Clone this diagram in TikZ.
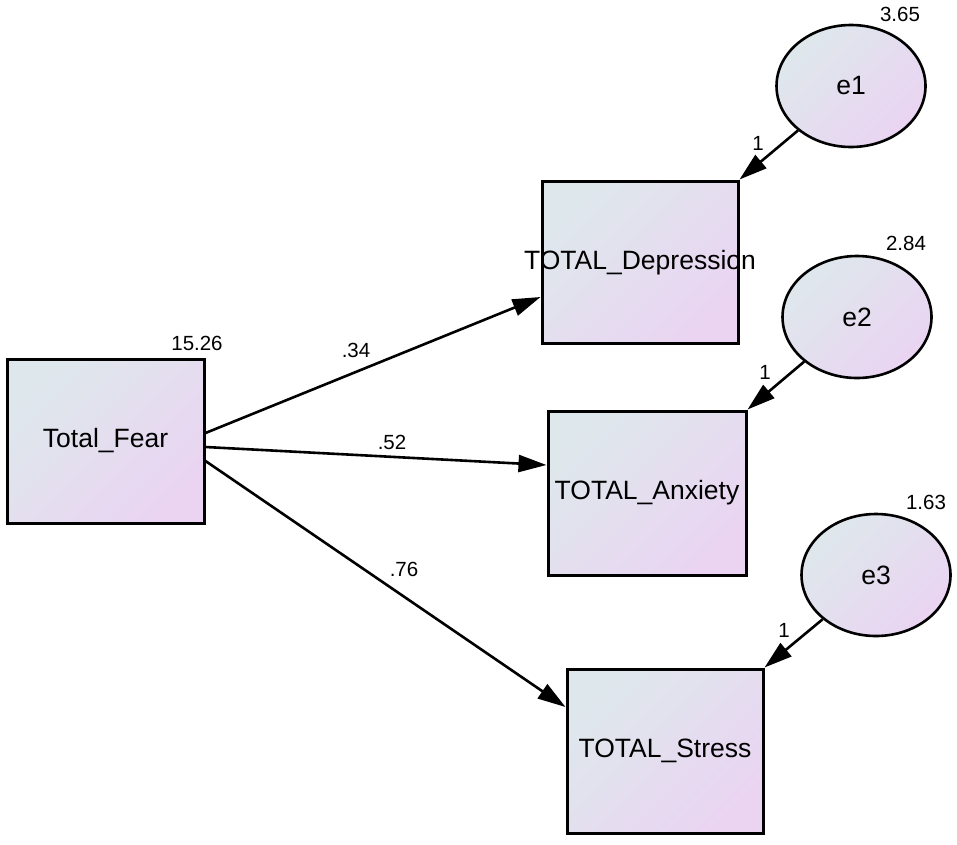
\documentclass[tikz,border=0pt]{standalone}
\usepackage{fontspec}
\setmainfont{Liberation Sans}
\usetikzlibrary{arrows.meta,shapes.geometric}
\definecolor{gA}{RGB}{222,232,236}
\definecolor{gB}{RGB}{234,212,242}
\begin{document}
\begin{tikzpicture}[x=1pt,y=-1pt,
  box/.style={draw=black, line width=3pt, rectangle, inner sep=0pt, top color=gA, bottom color=gB, shading angle=45},
  err/.style={draw=black, ellipse, line width=2.6pt, minimum width=149pt, minimum height=122pt, inner sep=0pt, top color=gA, bottom color=gB, shading angle=45},
  big/.style={inner sep=0pt, font=\fontsize{26.5}{30}\selectfont},
  small/.style={inner sep=0pt, font=\fontsize{20.5}{24}\selectfont},
  conn/.style={line width=2.6pt, -{Triangle[length=28pt,width=17pt]}}
]
\useasboundingbox (0,0) rectangle (957,844);

% boxes
\node[box, minimum width=197pt, minimum height=164pt] (fear) at (105.5,441) {};
\node[box, minimum width=196pt, minimum height=162pt] (dep) at (640,262) {};
\node[box, minimum width=198pt, minimum height=164pt] (anx) at (647,493) {};
\node[box, minimum width=196pt, minimum height=164pt] (str) at (665,751) {};

\node[big] (tfear) at (fear.center) {Total\_Fear};
\node[big] (tdep) at ([yshift=-1pt]dep.center) {TOTAL\_Depression};
\node[big] (tanx) at (anx.center) {TOTAL\_Anxiety};
\node[big] (tstr) at (str.center) {TOTAL\_Stress};

% error terms
\node[err] (e1) at (851,86) {};
\node[err] (e2) at (857,317) {};
\node[err] (e3) at (876,575) {};
\node[big] (te1) at (e1.center) {e1};
\node[big] (te2) at (e2.center) {e2};
\node[big] (te3) at (e3.center) {e3};

% variances
\node[small] (v0) at (197,343) {15.26};
\node[small] (v1) at (900,14) {3.65};
\node[small] (v2) at (906,243) {2.84};
\node[small] (v3) at (926,502) {1.63};

% paths
\draw[conn] ([yshift=8pt]fear.east) -- ([yshift=-35pt]dep.west);
\draw[conn] ([yshift=-6pt]fear.east) -- ([yshift=28pt]anx.west);
\draw[conn] ([yshift=-20pt]fear.east) -- ([yshift=44pt]str.west);
\draw[conn] (e1) -- (dep.north east);
\draw[conn] (e2) -- (anx.north east);
\draw[conn] (e3) -- (str.north east);

% path labels
\node[small] (l34) at (356,350) {.34};
\node[small] (l52) at (392,442) {.52};
\node[small] (l76) at (404,569) {.76};
\node[small] (l1a) at (758,143) {1};
\node[small] (l1b) at (765,372) {1};
\node[small] (l1c) at (784,630) {1};
\end{tikzpicture}
\end{document}
